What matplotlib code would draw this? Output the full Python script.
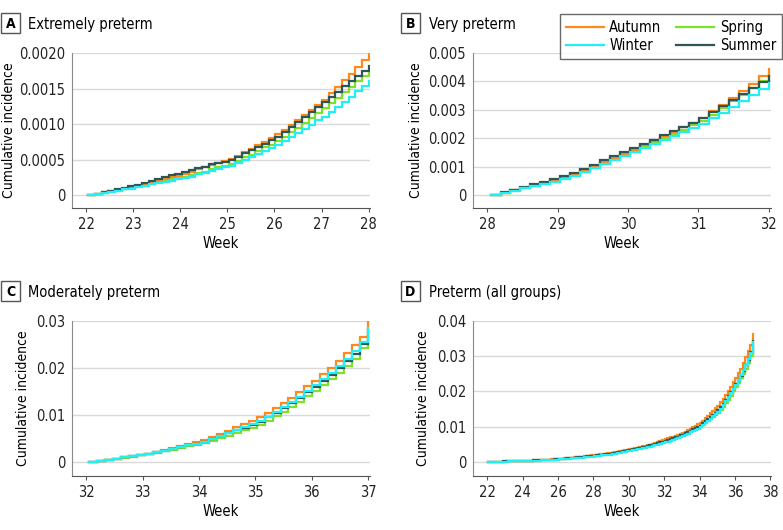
import numpy as np
import matplotlib
matplotlib.use("Agg")
import matplotlib.pyplot as plt
from matplotlib.patches import Rectangle

plt.rcParams['font.family'] = ['DejaVu Sans']
plt.rcParams['font.stretch'] = 'condensed'

seasons = ['Autumn', 'Winter', 'Spring', 'Summer']
colors = {'Autumn': '#ff8a1c', 'Winter': '#22eef5', 'Spring': '#7fe22a', 'Summer': '#2e5656'}
zorder = {'Spring': 2, 'Autumn': 3, 'Summer': 4, 'Winter': 5}

# daily cumulative incidence, extremely preterm (22-28 wk)
ext_autumn = [0.00002, 0.00004, 0.00005, 0.00007, 0.00008, 0.0001, 0.00012,
              0.00015, 0.00017, 0.0002, 0.00022, 0.00025, 0.00027, 0.0003,
              0.00033, 0.00036, 0.00039, 0.00042, 0.00045, 0.00048, 0.00051,
              0.00055, 0.0006, 0.00065, 0.0007, 0.00075, 0.0008, 0.00086,
              0.00092, 0.00099, 0.00106, 0.00113, 0.0012, 0.00127, 0.00134,
              0.00143, 0.00152, 0.00162, 0.00171, 0.0018, 0.0019, 0.0020]
ext_summer = [0.00002, 0.00004, 0.00006, 0.00008, 0.0001, 0.00012, 0.00014,
              0.00017, 0.0002, 0.00023, 0.00025, 0.00028, 0.0003, 0.00033,
              0.00035, 0.00038, 0.0004, 0.00043, 0.00045, 0.00047, 0.0005,
              0.00054, 0.00059, 0.00063, 0.00068, 0.00072, 0.00077, 0.00082,
              0.00089, 0.00096, 0.00103, 0.0011, 0.00117, 0.00124, 0.00131,
              0.00138, 0.00145, 0.00153, 0.0016, 0.00167, 0.00174, 0.00181]
ext_spring = [0.00001, 0.00003, 0.00005, 0.00007, 0.00008, 0.0001, 0.00012,
              0.00014, 0.00016, 0.00018, 0.0002, 0.00022, 0.00024, 0.00026,
              0.00028, 0.00031, 0.00033, 0.00036, 0.00039, 0.00041, 0.00044,
              0.00048, 0.00053, 0.00057, 0.00062, 0.00067, 0.00071, 0.00076,
              0.00082, 0.00089, 0.00095, 0.00102, 0.00109, 0.00115, 0.00122,
              0.00129, 0.00137, 0.00145, 0.00152, 0.0016, 0.00167, 0.00175]
ext_winter = [0.00001, 0.00003, 0.00004, 0.00006, 0.00008, 0.00009, 0.00011,
              0.00013, 0.00015, 0.00017, 0.00018, 0.0002, 0.00022, 0.00024,
              0.00026, 0.00029, 0.00031, 0.00034, 0.00036, 0.00039, 0.00041,
              0.00045, 0.00049, 0.00054, 0.00058, 0.00062, 0.00066, 0.00071,
              0.00076, 0.00082, 0.00088, 0.00093, 0.00099, 0.00105, 0.0011,
              0.00117, 0.00124, 0.00131, 0.00138, 0.00146, 0.00153, 0.0016]

# very preterm (28-32 wk)
very_autumn = [0.00008, 0.00016, 0.00025, 0.00033, 0.00042, 0.00051, 0.0006,
               0.00074, 0.00088, 0.00102, 0.00116, 0.0013, 0.00145, 0.0016,
               0.00175, 0.0019, 0.00206, 0.00222, 0.00238, 0.00254, 0.0027,
               0.00294, 0.00318, 0.00342, 0.00367, 0.00392, 0.00418, 0.00445]
very_summer = [0.00009, 0.00018, 0.00027, 0.00037, 0.00046, 0.00055, 0.00065,
               0.00079, 0.00093, 0.00107, 0.00122, 0.00136, 0.0015, 0.00165,
               0.0018, 0.00195, 0.0021, 0.00225, 0.0024, 0.00255, 0.0027,
               0.00291, 0.00312, 0.00333, 0.00354, 0.00376, 0.00398, 0.0042]
very_spring = [0.00008, 0.00016, 0.00025, 0.00033, 0.00042, 0.00051, 0.0006,
               0.00074, 0.00088, 0.00102, 0.00116, 0.0013, 0.00144, 0.00158,
               0.00172, 0.00187, 0.00201, 0.00216, 0.0023, 0.00245, 0.0026,
               0.00283, 0.00306, 0.0033, 0.00353, 0.00377, 0.00401, 0.00425]
very_winter = [0.00007, 0.00015, 0.00023, 0.00031, 0.00039, 0.00047, 0.00055,
               0.00068, 0.00082, 0.00095, 0.00109, 0.00122, 0.00136, 0.0015,
               0.00164, 0.00178, 0.00193, 0.00207, 0.00221, 0.00236, 0.0025,
               0.0027, 0.0029, 0.00311, 0.00332, 0.00352, 0.00373, 0.00395]

# moderately preterm (32-37 wk)
mod_autumn = [0.0002, 0.0005, 0.0007, 0.001, 0.0012, 0.0015, 0.0017,
              0.0021, 0.0025, 0.0029, 0.0034, 0.0038, 0.0042, 0.0047,
              0.0053, 0.0059, 0.0066, 0.0074, 0.0081, 0.0088, 0.0095,
              0.0105, 0.0115, 0.0126, 0.0137, 0.0149, 0.0161, 0.0173,
              0.0187, 0.0200, 0.0215, 0.0232, 0.0249, 0.0267, 0.0300]
mod_summer = [0.0002, 0.0005, 0.0007, 0.001, 0.0012, 0.0015, 0.0017,
              0.0021, 0.0024, 0.0028, 0.0032, 0.0035, 0.0039, 0.0043,
              0.0049, 0.0055, 0.0061, 0.0067, 0.0073, 0.0079, 0.0086,
              0.0095, 0.0105, 0.0115, 0.0126, 0.0137, 0.0148, 0.016,
              0.0172, 0.0185, 0.0199, 0.0214, 0.023, 0.0252, 0.0282]
mod_spring = [0.0002, 0.0004, 0.0007, 0.0009, 0.0011, 0.0014, 0.0016,
              0.0019, 0.0023, 0.0026, 0.003, 0.0033, 0.0037, 0.004,
              0.0045, 0.0051, 0.0056, 0.0062, 0.0067, 0.0073, 0.0079,
              0.0088, 0.0097, 0.0107, 0.0117, 0.0128, 0.014, 0.0152,
              0.0164, 0.0177, 0.019, 0.0204, 0.022, 0.0242, 0.0272]
mod_winter = [0.0002, 0.0005, 0.0007, 0.001, 0.0012, 0.0015, 0.0017,
              0.0021, 0.0024, 0.0028, 0.0032, 0.0035, 0.0039, 0.0043,
              0.0049, 0.0055, 0.0061, 0.0067, 0.0074, 0.008, 0.0087,
              0.0096, 0.0106, 0.0117, 0.0128, 0.0139, 0.0151, 0.0163,
              0.0176, 0.019, 0.0204, 0.0219, 0.0236, 0.0255, 0.0285]

ext = {'Autumn': ext_autumn, 'Winter': ext_winter, 'Spring': ext_spring, 'Summer': ext_summer}
very = {'Autumn': very_autumn, 'Winter': very_winter, 'Spring': very_spring, 'Summer': very_summer}
mod = {'Autumn': mod_autumn, 'Winter': mod_winter, 'Spring': mod_spring, 'Summer': mod_summer}

# all groups: stack the three periods
allg = {}
for s in seasons:
    a = np.array(ext[s]); b = np.array(very[s]); c = np.array(mod[s])
    allg[s] = np.concatenate([a, a[-1] + b, a[-1] + b[-1] + c])

W, H = 783, 530
fig = plt.figure(figsize=(W / 100, H / 100), dpi=100)

def px_axes(l, t, r, b):
    return fig.add_axes([l / W, 1 - b / H, (r - l) / W, (b - t) / H])

panels = [
    dict(box=(72, 53, 370, 208), data=ext, w0=22, w1=28, xlim=(21.7, 28.03),
         xt=range(22, 29), yt=[0, 0.0005, 0.0010, 0.0015, 0.0020],
         yl=['0', '0.0005', '0.0010', '0.0015', '0.0020'], ylim=(-0.000183, 0.0020),
         letter='A', title='Extremely preterm', lx=1, ly=13, tx=28, ylx=9),
    dict(box=(473, 53, 771, 208), data=very, w0=28, w1=32, xlim=(27.8, 32.03),
         xt=range(28, 33), yt=[0, 0.001, 0.002, 0.003, 0.004, 0.005],
         yl=['0', '0.001', '0.002', '0.003', '0.004', '0.005'], ylim=(-0.00046, 0.005),
         letter='B', title='Very preterm', lx=401, ly=13, tx=429, ylx=416),
    dict(box=(72, 321, 370, 476), data=mod, w0=32, w1=37, xlim=(31.75, 37.03),
         xt=range(32, 38), yt=[0, 0.01, 0.02, 0.03],
         yl=['0', '0.01', '0.02', '0.03'], ylim=(-0.003, 0.03),
         letter='C', title='Moderately preterm', lx=1, ly=281, tx=28, ylx=23),
    dict(box=(473, 321, 771, 476), data=allg, w0=22, w1=37, xlim=(21.2, 38.03),
         xt=range(22, 39, 2), yt=[0, 0.01, 0.02, 0.03, 0.04],
         yl=['0', '0.01', '0.02', '0.03', '0.04'], ylim=(-0.004, 0.04),
         letter='D', title='Preterm (all groups)', lx=401, ly=281, tx=429, ylx=423),
]

lines = {}
for p in panels:
    ax = px_axes(*p['box'])
    l, t, r, b = p['box']
    for s in seasons:
        vals = np.r_[0, p['data'][s]]
        x = np.linspace(p['w0'] + 0.05, p['w1'], len(vals))
        ln, = ax.step(x, vals, where='post', color=colors[s], lw=1.6,
                      zorder=zorder[s], label=s, solid_joinstyle='miter')
        lines[s] = ln
    ax.set_xlim(*p['xlim'])
    ax.set_ylim(*p['ylim'])
    ax.set_xticks(list(p['xt']))
    ax.set_yticks(p['yt'])
    ax.set_yticklabels(p['yl'])
    ax.grid(axis='y', color='#d9d9d9', lw=1)
    ax.set_axisbelow(True)
    for side in ['top', 'right']:
        ax.spines[side].set_visible(False)
    ax.spines['left'].set_color('#8a8a8a')
    ax.spines['bottom'].set_color('#555555')
    ax.tick_params(axis='y', length=0, labelsize=10.5, pad=5, colors='#222222')
    ax.tick_params(axis='x', length=3, labelsize=10.5, color='#555555', labelcolor='#222222')
    ax.set_xlabel('Week', fontsize=10.5)
    ax.set_ylabel('Cumulative incidence', fontsize=10, va='center')
    # label positions in pixels below / left of the axes box
    ax.xaxis.set_label_coords(0.5, -28 / (b - t))
    ax.yaxis.set_label_coords((p['ylx'] - l) / (r - l), 0.5)

    fig.patches.append(Rectangle((p['lx'] / W, 1 - (p['ly'] + 20) / H), 19 / W, 20 / H,
                                 transform=fig.transFigure, fc='white', ec='#555555', lw=1))
    fig.text((p['lx'] + 9.5) / W, 1 - (p['ly'] + 10.5) / H, p['letter'], ha='center',
             va='center', fontsize=10, fontweight='bold')
    fig.text(p['tx'] / W, 1 - (p['ly'] + 11) / H, p['title'], ha='left', va='center',
             fontsize=10.5)

leg = fig.legend([lines[s] for s in seasons], seasons, ncol=2, loc='upper right',
                 bbox_to_anchor=(782 / W, 1 - 14 / H), fontsize=10.5, frameon=True,
                 fancybox=False, edgecolor='#444444', handlelength=2.6,
                 handletextpad=0.4, columnspacing=1.0, labelspacing=0.25,
                 borderpad=0.4, borderaxespad=0)
leg.get_frame().set_linewidth(1)

fig.savefig('out.png', dpi=100)
